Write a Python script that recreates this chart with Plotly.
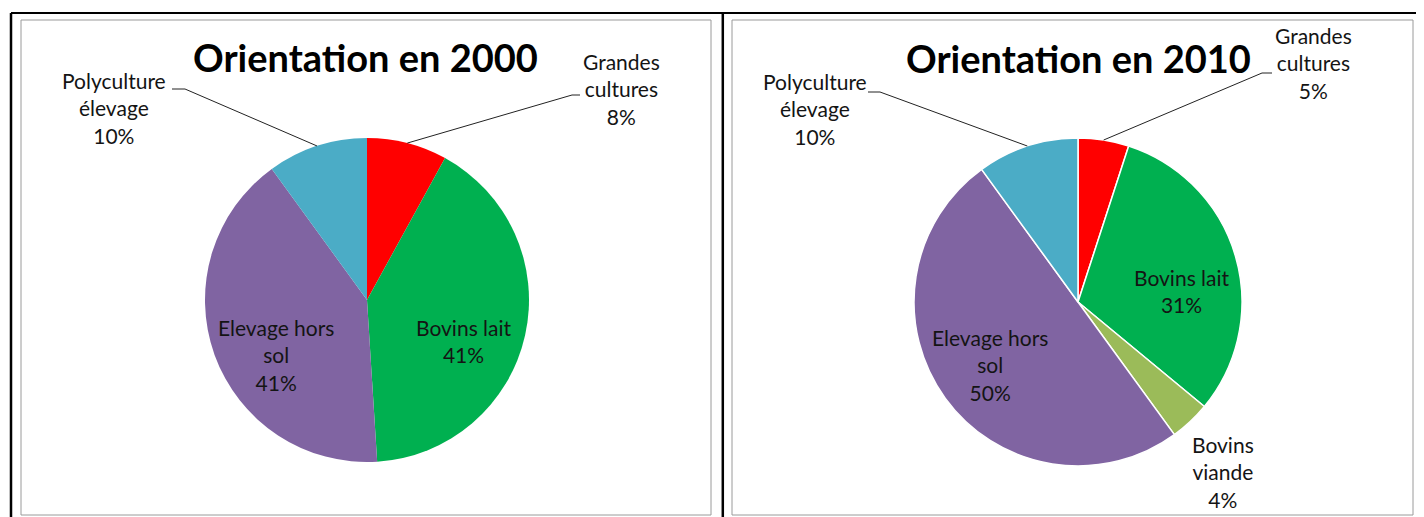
import math
import plotly.graph_objects as go

# ---- data ----
labels_2000 = ["Grandes cultures", "Bovins lait", "Elevage hors sol", "Polyculture élevage"]
values_2000 = [8, 41, 41, 10]
labels_2010 = ["Grandes cultures", "Bovins lait", "Bovins viande", "Elevage hors sol", "Polyculture élevage"]
values_2010 = [5, 31, 4, 50, 10]
titles = ["Orientation en 2000", "Orientation en 2010"]

color_map = {
    "Grandes cultures": "#FF0000",
    "Bovins lait": "#00B050",
    "Bovins viande": "#9BBB59",
    "Elevage hors sol": "#8064A2",
    "Polyculture élevage": "#4BACC6",
}

# page body has an 8px margin: the figure is placed at (8, 8)
OFF = 8
W, H = 1424 - OFF, 517 - OFF
FONT = "Lato, Calibri, Carlito, sans-serif"


def px(x):
    return (x - OFF) / W


def py(y):
    return 1 - (y - OFF) / H


fig = go.Figure()

pies = [
    dict(labels=labels_2000, values=values_2000, cx=367, cy=300, r=162, line=0,
         title_x=366, title_y=57),
    dict(labels=labels_2010, values=values_2010, cx=1078, cy=302, r=164, line=1.5,
         title_x=1078, title_y=58),
]

for p, t in zip(pies, titles):
    fig.add_trace(go.Pie(
        labels=p["labels"], values=p["values"], sort=False, direction="clockwise",
        rotation=0, textinfo="none", hoverinfo="label+percent",
        marker=dict(colors=[color_map[l] for l in p["labels"]],
                    line=dict(color="white", width=p["line"])),
        domain=dict(x=[px(p["cx"] - p["r"]), px(p["cx"] + p["r"])],
                    y=[py(p["cy"] + p["r"]), py(p["cy"] - p["r"])]),
        showlegend=False,
    ))
    fig.add_annotation(text="<b>%s</b>" % t, x=px(p["title_x"]), y=py(p["title_y"]),
                       xref="paper", yref="paper", showarrow=False,
                       xanchor="center", yanchor="middle",
                       font=dict(family=FONT, size=38, color="black"))


def mid_point(p, label, frac=1.0):
    total = sum(p["values"])
    cum = 0
    for l, v in zip(p["labels"], p["values"]):
        if l == label:
            a = (cum + v / 2) / total * 2 * math.pi
            return (p["cx"] + frac * p["r"] * math.sin(a),
                    p["cy"] - frac * p["r"] * math.cos(a))
        cum += v
    return None


def pct(p, label):
    total = sum(p["values"])
    v = p["values"][p["labels"].index(label)]
    return "%d%%" % round(100 * v / total)


label_layout = [
    (0, "Polyculture élevage", ["Polyculture", "élevage"], 114, 108, (172, 185, 89)),
    (0, "Grandes cultures", ["Grandes", "cultures"], 621, 89, (580, 572, 95)),
    (0, "Elevage hors sol", ["Elevage hors", "sol"], 276, 355, None),
    (0, "Bovins lait", ["Bovins lait"], 464, 341, None),
    (1, "Polyculture élevage", ["Polyculture", "élevage"], 815, 109, (868, 880, 92)),
    (1, "Grandes cultures", ["Grandes", "cultures"], 1313, 63, (1272, 1262, 73)),
    (1, "Bovins lait", ["Bovins lait"], 1182, 291, None),
    (1, "Elevage hors sol", ["Elevage hors", "sol"], 990, 365, None),
    (1, "Bovins viande", ["Bovins", "viande"], 1223, 472, None),
]

for idx, label, lines, lx, ly, leader in label_layout:
    p = pies[idx]
    txt = "<br>".join(lines + [pct(p, label)])
    fig.add_annotation(text=txt, x=px(lx), y=py(ly), xref="paper", yref="paper",
                       showarrow=False, xanchor="center", yanchor="middle",
                       font=dict(family=FONT, size=21, color="#141414"))
    if leader:
        x0, x1, yl = leader
        ex, ey = mid_point(p, label)
        fig.add_shape(type="line", xref="paper", yref="paper",
                      x0=px(x0), x1=px(x1), y0=py(yl), y1=py(yl),
                      line=dict(color="#222222", width=1))
        fig.add_shape(type="line", xref="paper", yref="paper",
                      x0=px(x1), x1=px(ex), y0=py(yl), y1=py(ey),
                      line=dict(color="#222222", width=1))

# chart areas (gray frames)
for (x0, y0, x1, y1) in [(21, 20, 711, 515), (732, 20, 1413, 515)]:
    fig.add_shape(type="rect", xref="paper", yref="paper",
                  x0=px(x0), x1=px(x1), y0=py(y1), y1=py(y0),
                  line=dict(color="#9a9a9a", width=1))
# black table borders
for (x0, y0, x1, y1, w) in [
    (11, 13, 1423, 13, 2),
    (11, 13, 11, 517, 2.5),
    (722.8, 13, 722.8, 517, 2.5),
    (1422.5, 13, 1422.5, 517, 2),
]:
    fig.add_shape(type="line", xref="paper", yref="paper",
                  x0=px(x0), x1=px(x1), y0=py(y0), y1=py(y1),
                  line=dict(color="black", width=w))

fig.update_layout(width=W, height=H, margin=dict(l=0, r=0, t=0, b=0),
                  paper_bgcolor="white", plot_bgcolor="white")

fig.write_html("out.html")
